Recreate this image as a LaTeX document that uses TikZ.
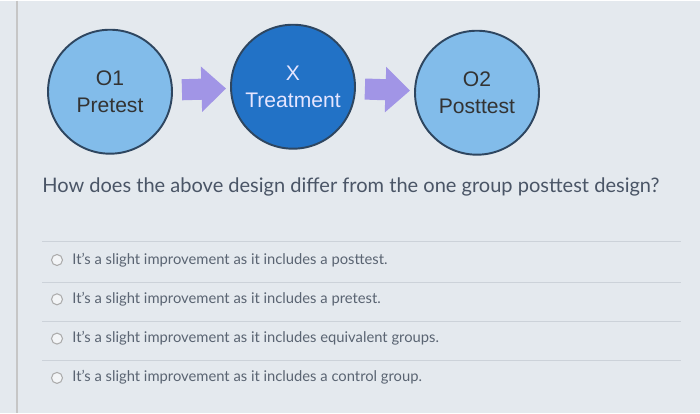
\documentclass[tikz,border=0pt]{standalone}
\usepackage{fontspec}
\setmainfont{Lato}
\newfontfamily\arialfont{Liberation Sans}
\usetikzlibrary{arrows.meta}
\definecolor{bgpage}{HTML}{E4E9EE}
\definecolor{lightblue}{HTML}{82BCEA}
\definecolor{darkblue}{HTML}{2272C6}
\definecolor{rimblue}{HTML}{2E4660}
\definecolor{arrowviolet}{HTML}{A195E6}
\definecolor{qtext}{HTML}{4A5566}
\definecolor{opttext}{HTML}{5A6472}
\definecolor{rulegray}{HTML}{CCD2D9}

\begin{document}
\begin{tikzpicture}[x=0.02cm, y=-0.02cm,
  phase/.style={circle, draw=rimblue, line width=1.1pt, minimum size=2.48cm, inner sep=0pt, align=center,
    font=\arialfont\fontsize{12}{15}\selectfont, text=black!80},
  testn/.style={phase, fill=lightblue},
  treatn/.style={phase, fill=darkblue, text=white!90!blue},
  fat/.style={arrowviolet, line width=12pt, -{Triangle[length=14pt, width=25pt]},
    shorten <=0.18cm, shorten >=0.08cm},
  radio/.style={circle, draw=gray!65, line width=0.6pt, fill=white!55!bgpage, minimum size=0.22cm, inner sep=0pt},
  opt/.style={anchor=base west, text=opttext, font=\fontsize{8.4}{10}\selectfont, inner sep=0pt},
  sep/.style={rulegray, line width=0.6pt}]
% page
\fill[bgpage] (0,0) rectangle (700,412);
\draw[gray!45, line width=0.8pt] (17,0) -- (17,412);
% the design: pretest, treatment, posttest
\node[testn]  (pre)   at (110,91) {O1\\Pretest};
\node[treatn] (treat) at (293,86) {X\\Treatment};
\node[testn]  (post)  at (477,92) {O2\\Posttest};
\foreach \a/\b in {pre/treat,treat/post}
  \draw[fat] (\a) -- (\b);
% question
\node[anchor=base west, text=qtext, font=\fontsize{11.4}{13}\selectfont, inner sep=0pt] (quest) at (42,192)
  {How does the above design differ from the one group posttest design?};
% answer choices
\foreach \y in {241,282,321,360}
  \draw[sep] (42,\y) -- (681,\y);
\foreach \t [count=\i] in {It's a slight improvement as it includes a posttest.,
                           It's a slight improvement as it includes a pretest.,
                           It's a slight improvement as it includes equivalent groups.,
                           It's a slight improvement as it includes a control group.} {
  \node[radio] (r\i) at (57,{220+39.3*\i}) {};
  \node[opt]   (o\i) at (72,{224+39.3*\i}) {\t};
}
\end{tikzpicture}
\end{document}
